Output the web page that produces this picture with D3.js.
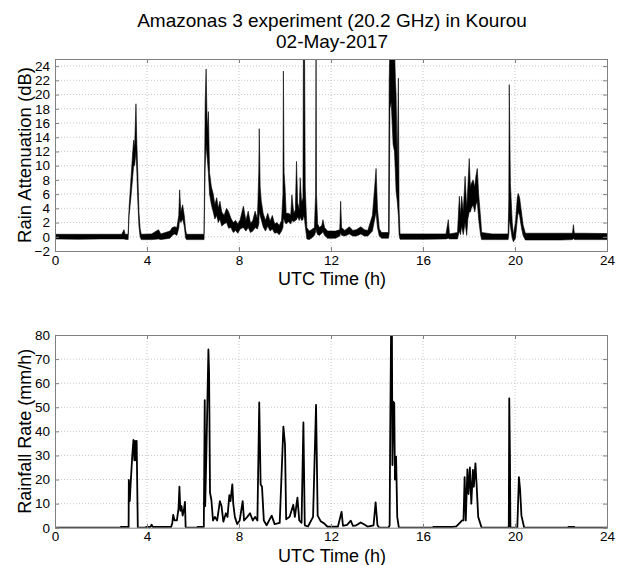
<!DOCTYPE html>
<html><head><meta charset="utf-8">
<script src="https://cdn.jsdelivr.net/npm/d3@7"></script>
<style>
body{margin:0;background:#fff;}
svg{font-family:"Liberation Sans",Arial,sans-serif;}
</style></head>
<body><svg id="c" width="626" height="565"></svg>
<script>
// ---- data ----
const titleLines = ["Amazonas 3 experiment (20.2 GHz) in Kourou", "02-May-2017"];
const xTicks = [0, 4, 8, 12, 16, 20, 24];
const attTicks = [-2, 0, 2, 4, 6, 8, 10, 12, 14, 16, 18, 20, 22, 24];
const rainTicks = [0, 10, 20, 30, 40, 50, 60, 70, 80];

// Rain attenuation (dB): time (h), lower and upper envelope of the noisy trace
const attT  = [0,1,2,2.9,3.0,3.05,3.18,3.22,3.3,3.38,3.42,3.46,3.52,3.56,3.6,3.65,3.7,3.75,4.2,4.5,4.6,5.0,5.1,5.2,5.3,5.38,5.42,5.47,5.55,5.62,5.68,5.72,6.0,6.48,6.53,6.57,6.62,6.67,6.72,6.8,6.88,6.95,7.03,7.1,7.17,7.25,7.35,7.46,7.55,7.65,7.75,7.85,7.95,8.05,8.19,8.3,8.4,8.5,8.6,8.7,8.8,8.86,8.88,8.92,8.97,9.05,9.15,9.25,9.35,9.45,9.55,9.65,9.75,9.85,9.91,9.93,9.96,10.0,10.05,10.15,10.25,10.3,10.38,10.45,10.5,10.55,10.62,10.66,10.72,10.78,10.8,10.85,10.88,10.95,11.05,11.15,11.28,11.33,11.35,11.37,11.42,11.5,11.6,11.65,11.72,11.85,12.0,12.2,12.38,12.42,12.46,12.6,12.8,12.95,13.1,13.3,13.45,13.6,13.8,13.9,13.96,14.02,14.1,14.2,14.5,14.53,14.56,14.62,14.7,14.76,14.8,14.83,14.88,14.93,14.96,15.0,16.0,17.0,17.1,17.15,17.5,17.58,17.63,17.68,17.75,17.83,17.9,17.95,18.01,18.06,18.1,18.18,18.25,18.3,18.36,18.42,18.5,18.55,19.0,19.7,19.73,19.75,19.8,19.88,19.93,20.02,20.1,20.14,20.2,20.28,20.35,20.45,21.0,22.0,22.5,22.54,22.58,23.0,24];
const attLo = [-0.3,-0.35,-0.3,-0.3,-0.3,-0.35,-0.4,3.0,5.5,8.5,10,10,12,9,5,1.5,0,-0.4,-0.4,-0.3,-0.4,-0.2,0.2,0.4,0.2,1.2,2.5,2,2.5,1.5,-0.2,-0.4,-0.4,-0.4,10,13,11,9,6,4.5,3.5,2.5,3,2,2.5,1.5,1.8,2,1.2,1.3,0.6,0.9,0.5,1.1,1.3,0.8,1.3,0.6,0.8,1.3,1.1,1.8,3.5,3,2.4,1.4,0.8,1.5,0.8,1.1,0.5,0.6,0.3,0.8,1.3,2.5,2.5,2,1.8,2.1,1.8,2.3,2.1,2.3,2.4,2.8,2.3,2.8,2.3,2.4,3,2.5,1.5,-0.3,-0.4,-0.2,0.2,0.7,1.2,0.7,0.3,0.2,0.5,0.7,0.2,-0.2,-0.2,-0.2,0.1,0.6,0.2,0.1,0.4,0.1,0.1,0.4,0.1,0.1,0.8,2.5,3.5,1.3,0.1,-0.2,-0.2,0.5,18.0,19.0,13.0,12.0,9.0,6.4,5.0,3.0,0.3,-0.35,-0.35,-0.3,-0.2,-0.3,-0.3,0.8,0.3,1.5,0.3,2,0.2,2.5,3.5,3.5,4,4.5,3.5,4.5,5,2.5,0.3,-0.4,-0.4,-0.4,0.3,2.5,1.5,-0.2,-0.7,-0.2,2.5,3.5,3,1.3,0.2,-0.45,-0.45,-0.45,-0.4,-0.2,-0.4,-0.4,-0.4];
const attHi = [0.35,0.35,0.35,0.35,1.0,0.35,0.35,4.0,8.0,12.0,13.6,12.5,18.7,13.0,9.0,3.5,1.2,0.35,0.4,1.0,0.4,0.8,1.3,1.4,1.3,3.0,6.6,3.5,4.5,3.0,1.0,0.35,0.35,0.35,19.0,23.6,15.0,17.6,9.0,7.0,6.0,4.5,5.5,4.0,5.0,3.5,3.0,4.0,3.5,2.6,2.0,2.3,1.8,2.4,4.3,2.3,3.6,1.9,2.3,3.6,2.5,9.0,15.2,7.0,5.0,3.3,2.3,3.3,2.2,3.0,1.8,2.0,1.6,2.3,6.0,23.3,9.0,7.1,3.3,3.3,3.1,5.9,3.3,3.8,10.6,4.8,3.8,8.3,4.8,5.5,27,27,6.9,1.3,0.8,1.0,1.3,6.0,27,6.0,1.8,1.3,1.6,2.4,1.3,0.8,0.8,0.8,1.0,5.0,1.3,0.9,1.4,0.9,1.0,1.4,1.0,0.9,3.0,7.0,9.6,4.0,1.1,0.6,0.6,22.0,27,27,27,27,22.0,20.0,10.0,22.3,4.0,0.4,0.4,0.4,2.4,0.4,0.6,5.7,3.0,5.7,3.5,8.5,4.0,7.0,11.0,7.0,7.5,8.0,7.0,8.5,9.6,6.0,2.8,0.6,0.4,0.4,5.0,21.4,7.5,2.0,0.3,2.0,5.5,6.1,5.5,3.5,1.7,0.5,0.5,0.5,0.5,1.7,0.5,0.5,0.45];

// Rainfall rate (mm/h)
const rainT = [0,2.85,2.86,3.19,3.2,3.21,3.25,3.3,3.36,3.41,3.45,3.48,3.52,3.55,3.6,3.9,4.0,4.15,4.2,4.25,5.05,5.1,5.14,5.2,5.3,5.37,5.41,5.45,5.5,5.55,5.6,5.65,5.68,5.72,6.15,6.2,6.47,6.51,6.53,6.58,6.67,6.7,6.74,6.8,6.87,6.95,7.05,7.17,7.24,7.32,7.43,7.5,7.58,7.63,7.71,7.75,7.82,7.92,8.03,8.16,8.22,8.36,8.48,8.6,8.7,8.8,8.88,8.94,9.0,9.08,9.2,9.42,9.55,9.77,9.93,10.0,10.05,10.2,10.36,10.43,10.54,10.62,10.72,10.8,10.86,11.0,11.22,11.35,11.42,11.55,11.7,11.85,12.3,12.46,12.52,12.7,12.86,12.95,13.1,13.29,13.45,13.6,13.85,13.94,14.02,14.1,14.5,14.55,14.57,14.61,14.65,14.67,14.71,14.75,14.78,14.83,14.88,14.95,16.4,16.45,17.3,17.45,17.6,17.7,17.76,17.81,17.86,17.93,17.98,18.04,18.1,18.17,18.21,18.28,18.33,18.4,18.55,19.7,19.73,19.75,19.78,19.8,20.1,20.17,20.22,20.28,20.4,22.3,22.32,22.58,22.6,24];
const rainV = [0,0,0.3,0.3,0,19.8,11,20,30,36.4,28,36,28,36,0,0,0.3,0.3,1.3,0.3,0.3,2,5.3,3,3,8,17,7,9,5,7,10.7,0.3,0,0,0.3,0.3,53,9,30,74,64,14.5,11.5,3,4.5,3,11,9,2.5,6,4.5,13.5,11,18,10,4.5,1.5,3,11,3,4.5,6,3,4.5,3,52,18,17,3,1,5,1.5,2,42,34.5,3.5,4.5,9.5,4.5,12.5,3,2,43.7,1,0.5,4.5,51,5,2.7,1.8,0.4,0.4,6.6,0.8,1.2,2.9,0.8,1,2.2,1.3,0.4,1,10.5,1,0,0,1,33.6,80,80,26,52.3,51.8,20,29.5,4.5,0,0,0.3,0.3,0.5,2,3,3,21,3,24.2,14,25,10,24,17,26.7,18,4.5,0,0,0.5,53.7,30,0,0,21,16,5,0,0,0.3,0.3,0,0];

// ---- drawing ----
const svg = d3.select("#c");
const L = 55, R = 607;
const x = d3.scaleLinear().domain([0, 24]).range([L, R]);
const panels = [
  {top: 59, bottom: 251, domain: [-2, 25], ticks: attTicks, label: "Rain Attenuation (dB)", lsize: 18.5},
  {top: 335, bottom: 527.7, domain: [0, 80], ticks: rainTicks, label: "Rainfall Rate (mm/h)", lsize: 18}
];

svg.append("g").selectAll("text").data(titleLines).join("text")
  .attr("x", 332).attr("y", (d, i) => 27 + i * 21)
  .attr("text-anchor", "middle").attr("font-size", 19).attr("fill", "#000").text(d => d);

panels.forEach((p, pi) => {
  const y = d3.scaleLinear().domain(p.domain).range([p.bottom, p.top]);
  const g = svg.append("g");
  // grid
  g.append("g").selectAll("line").data(xTicks.slice(1, -1)).join("line")
    .attr("x1", d => x(d)).attr("x2", d => x(d)).attr("y1", p.top).attr("y2", p.bottom)
    .attr("stroke", "#b8b8b8").attr("stroke-width", 0.8).attr("stroke-dasharray", "1,2");
  g.append("g").selectAll("line").data(p.ticks.filter(t => t > p.domain[0] && t < p.domain[1])).join("line")
    .attr("x1", L).attr("x2", R).attr("y1", d => y(d)).attr("y2", d => y(d))
    .attr("stroke", "#b8b8b8").attr("stroke-width", 0.8).attr("stroke-dasharray", "1,2");

  // clip
  const cid = "clip" + pi;
  svg.append("clipPath").attr("id", cid).append("rect")
    .attr("x", L).attr("y", p.top).attr("width", R - L).attr("height", p.bottom - p.top);

  if (pi === 0) {
    const area = d3.area().x((d, i) => x(attT[i])).y0((d, i) => y(attLo[i])).y1((d, i) => y(attHi[i]));
    g.append("path").datum(attT).attr("clip-path", `url(#${cid})`)
      .attr("d", area).attr("fill", "#000").attr("stroke", "#000").attr("stroke-width", 0.6)
      .attr("stroke-linejoin", "round");
  } else {
    const line = d3.line().x((d, i) => x(rainT[i])).y((d, i) => y(rainV[i]));
    g.append("path").datum(rainT).attr("clip-path", `url(#${cid})`)
      .attr("d", line).attr("fill", "none").attr("stroke", "#000").attr("stroke-width", 1.8)
      .attr("stroke-linejoin", "round");
  }

  // axes (MATLAB-like box with inward ticks)
  const axB = d3.axisBottom(x).tickValues(xTicks).tickSize(-4).tickPadding(4).tickFormat(d3.format("d"));
  const axT = d3.axisTop(x).tickValues(xTicks).tickSize(-4).tickFormat("");
  const axL = d3.axisLeft(y).tickValues(p.ticks).tickSize(-4).tickPadding(5).tickFormat(d3.format("d"));
  const axR = d3.axisRight(y).tickValues(p.ticks).tickSize(-4).tickFormat("");
  const style = s => { s.select(".domain").attr("stroke", "#808080");
    s.selectAll(".tick line").attr("stroke", "#808080");
    s.selectAll("text").attr("fill", "#000").attr("font-size", 13.5).attr("font-family", "'Liberation Sans',Arial,sans-serif"); };
  svg.append("g").attr("transform", `translate(0,${p.bottom})`).call(axB).call(style);
  svg.append("g").attr("transform", `translate(0,${p.top})`).call(axT).call(style);
  svg.append("g").attr("transform", `translate(${L},0)`).call(axL).call(style);
  svg.append("g").attr("transform", `translate(${R},0)`).call(axR).call(style);

  svg.append("text").attr("x", 332).attr("y", p.bottom + 34)
    .attr("text-anchor", "middle").attr("font-size", 18).text("UTC Time (h)");
  svg.append("text").attr("transform", `translate(31,${(p.top + p.bottom) / 2}) rotate(-90)`)
    .attr("text-anchor", "middle").attr("font-size", p.lsize).text(p.label);
});
</script></body></html>
